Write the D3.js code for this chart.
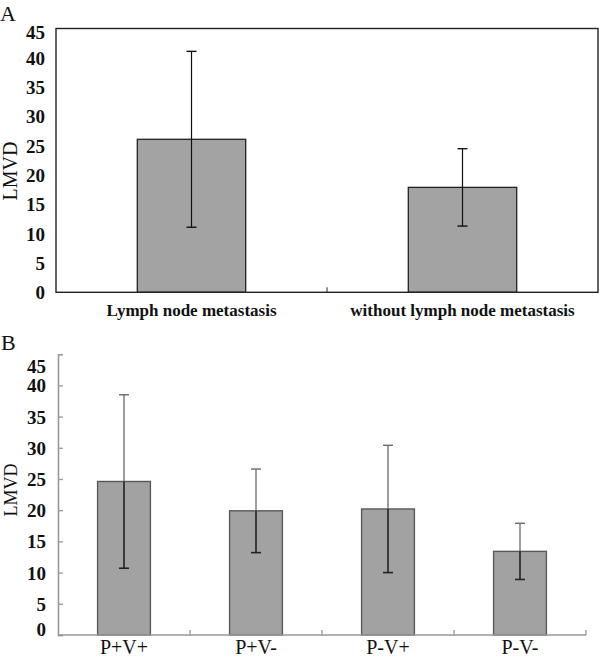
<!DOCTYPE html>
<html>
<head>
<meta charset="utf-8">
<script src="https://cdn.jsdelivr.net/npm/d3@7"></script>
<style>
  html, body { margin: 0; padding: 0; background: #fff; }
  svg { display: block; }
  text { font-family: "Liberation Serif", "Times New Roman", serif; fill: #111; }
</style>
</head>
<body>
<svg id="chart" width="600" height="660"></svg>
<script>
// ---- Data ----
const categoriesA = ["Lymph node metastasis", "without lymph node metastasis"];
const meansA = [26.1, 17.9];
const errorsA = [15.0, 6.6];

const categoriesB = ["P+V+", "P+V-", "P-V+", "P-V-"];
const meansB = [24.6, 19.9, 20.2, 13.4];
const errorsB = [13.9, 6.7, 10.2, 4.5];

const yTicks = [0, 5, 10, 15, 20, 25, 30, 35, 40, 45];
const panelLabels = ["A", "B"];
const yAxisTitle = "LMVD";

const svg = d3.select("#chart");

// ================= Panel A =================
(function () {
  const L = 56, R = 598, T = 28.5, B = 292.3;
  const x = d3.scaleBand().domain(categoriesA).range([L, R]).paddingInner(0.6).paddingOuter(0.3);
  const y = d3.scaleLinear().domain([0, 45]).range([B, T]);
  const g = svg.append("g");

  g.append("text").attr("x", 0).attr("y", 21).attr("font-size", 22).text(panelLabels[0]);

  g.selectAll("rect.bar").data(categoriesA).join("rect")
    .attr("x", d => x(d)).attr("width", x.bandwidth())
    .attr("y", (d, i) => y(meansA[i])).attr("height", (d, i) => B - y(meansA[i]))
    .attr("fill", "#a3a3a3").attr("stroke", "#222").attr("stroke-width", 1.3);

  categoriesA.forEach((c, i) => {
    const cx = x(c) + x.bandwidth() / 2;
    const top = y(meansA[i] + errorsA[i]), bot = y(meansA[i] - errorsA[i]);
    g.append("line").attr("x1", cx).attr("x2", cx).attr("y1", top).attr("y2", bot)
      .attr("stroke", "#111").attr("stroke-width", 1.2);
    [top, bot].forEach(yy => g.append("line").attr("x1", cx - 5).attr("x2", cx + 5)
      .attr("y1", yy).attr("y2", yy).attr("stroke", "#111").attr("stroke-width", 1.4));
  });

  g.append("rect").attr("x", L).attr("y", T).attr("width", R - L).attr("height", B - T)
    .attr("fill", "none").attr("stroke", "#222").attr("stroke-width", 1.4);

  g.append("line").attr("x1", L + x.step()).attr("x2", L + x.step())
    .attr("y1", B).attr("y2", B - 5).attr("stroke", "#222").attr("stroke-width", 1);

  const yAxis = d3.axisLeft(y).tickValues(yTicks).tickSize(0).tickPadding(11);
  const ya = g.append("g").attr("transform", `translate(${L},0)`).call(yAxis);
  ya.select(".domain").remove();
  ya.selectAll("text").attr("font-size", 19).attr("font-weight", "bold")
    .attr("font-family", "Liberation Serif").attr("fill", "#111")
    .attr("dy", (d) => d === 45 ? "0.55em" : "0.34em");

  g.selectAll("text.xl").data(categoriesA).join("text").attr("class", "xl")
    .attr("x", d => x(d) + x.bandwidth() / 2).attr("y", 316)
    .attr("text-anchor", "middle").attr("font-size", 17).attr("font-weight", "bold")
    .text(d => d);

  g.append("text").attr("transform", "translate(17,171) rotate(-90)")
    .attr("text-anchor", "middle").attr("font-size", 20).text(yAxisTitle);
})();

// ================= Panel B =================
(function () {
  const L = 58, R = 586, T = 354.2, B = 635;
  const x = d3.scaleBand().domain(categoriesB).range([L, R]).paddingInner(0.6).paddingOuter(0.3);
  const y = d3.scaleLinear().domain([0, 45]).range([B, T]);
  const g = svg.append("g");

  g.append("text").attr("x", 1).attr("y", 350).attr("font-size", 22).text(panelLabels[1]);

  g.selectAll("rect.bar").data(categoriesB).join("rect")
    .attr("x", d => x(d)).attr("width", x.bandwidth())
    .attr("y", (d, i) => y(meansB[i])).attr("height", (d, i) => B - y(meansB[i]))
    .attr("fill", "#a2a2a2").attr("stroke", "#5a5a5a").attr("stroke-width", 1.4);

  categoriesB.forEach((c, i) => {
    const cx = x(c) + x.bandwidth() / 2;
    const mid = y(meansB[i]);
    const top = y(meansB[i] + errorsB[i]), bot = y(meansB[i] - errorsB[i]);
    g.append("line").attr("x1", cx).attr("x2", cx).attr("y1", top).attr("y2", mid)
      .attr("stroke", "#6a6a6a").attr("stroke-width", 1.3);
    g.append("line").attr("x1", cx).attr("x2", cx).attr("y1", mid).attr("y2", bot)
      .attr("stroke", "#222").attr("stroke-width", 1.6);
    g.append("line").attr("x1", cx - 5).attr("x2", cx + 5).attr("y1", top).attr("y2", top)
      .attr("stroke", "#6a6a6a").attr("stroke-width", 1.4);
    g.append("line").attr("x1", cx - 5).attr("x2", cx + 5).attr("y1", bot).attr("y2", bot)
      .attr("stroke", "#222").attr("stroke-width", 1.6);
  });

  const yAxis = d3.axisRight(y).tickValues(yTicks).tickSize(5).tickFormat("");
  const ya = g.append("g").attr("transform", `translate(${L},0)`).call(yAxis);
  ya.select(".domain").attr("stroke", "#999").attr("stroke-width", 1.6);
  ya.selectAll(".tick line").attr("stroke", "#999").attr("stroke-width", 1.3);

  const yLab = d3.axisLeft(y).tickValues(yTicks).tickSize(0).tickPadding(12);
  const yl = g.append("g").attr("transform", `translate(${L},0)`).call(yLab);
  yl.select(".domain").remove();
  yl.selectAll("text").attr("font-size", 19).attr("font-weight", "bold")
    .attr("font-family", "Liberation Serif").attr("fill", "#111")
    .attr("dy", d => d === 45 ? "0.95em" : d === 0 ? "0.05em" : "0.34em");

  const bounds = d3.range(categoriesB.length + 1).map(k => L + k * x.step());
  g.append("line").attr("x1", L).attr("x2", R).attr("y1", B).attr("y2", B)
    .attr("stroke", "#999").attr("stroke-width", 1.6);
  g.selectAll("line.xt").data(bounds.slice(1)).join("line").attr("class", "xt")
    .attr("x1", d => d).attr("x2", d => d).attr("y1", B).attr("y2", B - 5)
    .attr("stroke", "#999").attr("stroke-width", 1.3);

  g.selectAll("text.xl").data(categoriesB).join("text").attr("class", "xl")
    .attr("x", d => x(d) + x.bandwidth() / 2).attr("y", 654)
    .attr("text-anchor", "middle").attr("font-size", 20)
    .text(d => d);

  g.append("text").attr("transform", "translate(17,490) rotate(-90)")
    .attr("text-anchor", "middle").attr("font-size", 18).text(yAxisTitle);
})();
</script>
</body>
</html>
